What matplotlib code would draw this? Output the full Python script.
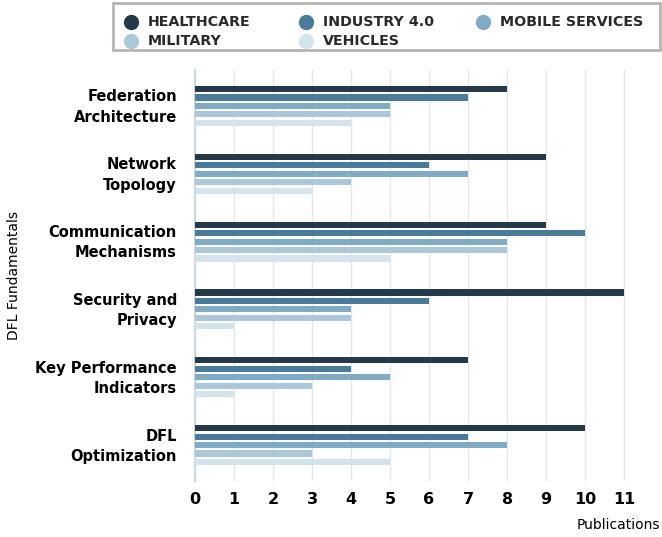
import matplotlib
matplotlib.use("Agg")
import matplotlib.pyplot as plt
import matplotlib.transforms as mtransforms
from matplotlib.patches import Rectangle
import numpy as np

categories = ["Federation\nArchitecture", "Network\nTopology", "Communication\nMechanisms",
              "Security and\nPrivacy", "Key Performance\nIndicators", "DFL\nOptimization"]
series = ["HEALTHCARE", "INDUSTRY 4.0", "MOBILE SERVICES", "MILITARY", "VEHICLES"]
healthcare = [8, 9, 9, 11, 7, 10]
industry = [7, 6, 10, 6, 4, 7]
mobile = [5, 7, 8, 4, 5, 8]
military = [5, 4, 8, 4, 3, 3]
vehicles = [4, 3, 5, 1, 1, 5]
x_ticks = list(range(0, 12))

colors = ["#243a4a", "#4a7b9b", "#80abc4", "#aac8d9", "#d4e4ed"]
values = [healthcare, industry, mobile, military, vehicles]

plt.rcParams['font.family'] = ['DejaVu Sans']

fig = plt.figure(figsize=(6.62, 5.37), dpi=100)
W, H = 662, 537
ax = fig.add_axes([195 / W, 1 - 481 / H, 465 / W, (481 - 70) / H])

y = np.arange(len(categories))
step = 0.125
height = 0.09
for i, (name, vals, c) in enumerate(zip(series, values, colors)):
    ax.barh(y + (i - 2) * step, vals, height=height, color=c, label=name, zorder=3)

ax.set_ylim(len(categories) - 0.47, -0.53)
ax.set_xlim(0, 11.92)
ax.set_xticks(x_ticks)
ax.set_xticklabels([str(t) for t in x_ticks], fontsize=11.5, fontweight='bold')
ax.set_yticks(y)
ax.set_yticklabels(categories, fontsize=10.5, fontweight='bold', linespacing=1.45)
ax.tick_params(axis='y', length=0, pad=13)
ax.tick_params(axis='x', length=0, pad=8)
# nudge category labels up a few pixels
shift = mtransforms.ScaledTranslation(0, 3 / 100, fig.dpi_scale_trans)
for lbl in ax.get_yticklabels():
    lbl.set_transform(lbl.get_transform() + shift)
ax.grid(axis='x', color='#e6e6e6', linewidth=1, zorder=0)
for s in ['top', 'right', 'bottom']:
    ax.spines[s].set_visible(False)
ax.spines['left'].set_color('#c9d9e5')
ax.spines['left'].set_linewidth(1.5)

fig.text(660 / W, 1 - 525 / H, "Publications", ha='right', va='center', fontsize=10)
fig.text(14 / W, 1 - 275 / H, "DFL Fundamentals", ha='center', va='center', rotation=90, fontsize=10)

# legend box drawn by hand so that it fills row by row like the original
fig.patches.append(Rectangle((113 / W, 1 - 50 / H), (660 - 113) / W, 47 / H,
                             transform=fig.transFigure, fill=False,
                             edgecolor='#b5b5b5', linewidth=2))
marker_x = [131, 306, 483]
row_y = [22, 41]
for i, (name, c) in enumerate(zip(series, colors)):
    col, row = i % 3, i // 3
    fx = marker_x[col] / W
    fy = 1 - row_y[row] / H
    fig.lines.append(plt.Line2D([fx], [fy], marker='o', markersize=10, color=c,
                                linestyle='', transform=fig.transFigure))
    fig.text(fx + 17 / W, fy, name, ha='left', va='center', fontsize=10.3,
             fontweight='bold', color='#2a2a2a')

fig.savefig("out.png", dpi=100)
